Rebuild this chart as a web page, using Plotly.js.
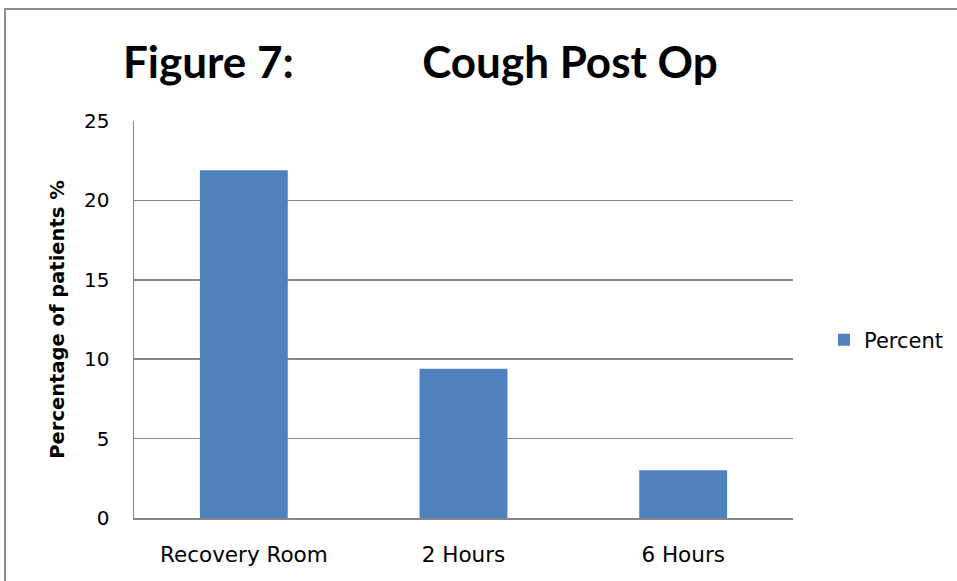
<!DOCTYPE html>
<html><head><meta charset="utf-8">
<script src="https://cdn.plot.ly/plotly-3.0.1.min.js"></script>
<style>
html,body{margin:0;padding:0;background:#fff;}
#frame{position:absolute;left:4px;top:8px;width:960px;height:600px;border-top:2px solid #8c8c8c;border-left:2px solid #8c8c8c;box-sizing:border-box;pointer-events:none;}
#chart{width:957px;height:581px;}
</style></head>
<body>
<div id="chart"></div>
<div id="frame"></div>
<script>
const categories = ["Recovery Room", "2 Hours", "6 Hours"];
const percent = [21.9, 9.4, 3.0];
const seriesName = "Percent";
const yTicks = [0, 5, 10, 15, 20, 25];

const BODY = "'DejaVu Sans', sans-serif";
const TITLE = "Lato, 'Open Sans', sans-serif";
const SP = "\u00a0".repeat(12);
const trace = {
  type: "bar",
  x: categories,
  y: percent,
  name: seriesName,
  marker: {color: "#4F81BD"},
  showlegend: true,
  hoverinfo: "x+y"
};
const layout = {
  width: 957, height: 581,
  margin: {l: 134, r: 164, t: 121, b: 63, autoexpand: false},
  paper_bgcolor: "#fff", plot_bgcolor: "#fff",
  font: {family: BODY, color: "#000", size: 20},
  bargap: 0.6,
  title: {
    text: "Figure 7:" + SP + "Cough Post Op",
    font: {family: TITLE, size: 44, color: "#000", weight: "bold"},
    x: 0.1285, xanchor: "left", xref: "container",
    y: 0.893, yanchor: "middle"
  },
  xaxis: {
    type: "category",
    showgrid: false,
    showline: true, linecolor: "#868686", linewidth: 1.5,
    ticks: "", ticklabelstandoff: 17,
    tickfont: {family: BODY, size: 21.5, color: "#000"}
  },
  yaxis: {
    range: [0, 25],
    tickvals: yTicks,
    ticktext: yTicks.map(String),
    showgrid: true, gridcolor: "#868686", gridwidth: 1.5,
    showline: true, linecolor: "#868686", linewidth: 1.5,
    zeroline: false,
    ticks: "", ticklabelstandoff: 19,
    tickfont: {family: BODY, size: 20, color: "#000"},
    title: {text: "Percentage of patients %", font: {family: BODY, size: 19.5, color: "#000", weight: "bold"}, standoff: 14}
  },
  legend: {
    x: 1.047, xanchor: "left", y: 0.448, yanchor: "middle",
    font: {family: BODY, size: 21, color: "#000"},
    bgcolor: "rgba(0,0,0,0)", itemwidth: 30
  }
};
Plotly.newPlot("chart", [trace], layout, {displayModeBar: false, staticPlot: true});
</script>
</body></html>
